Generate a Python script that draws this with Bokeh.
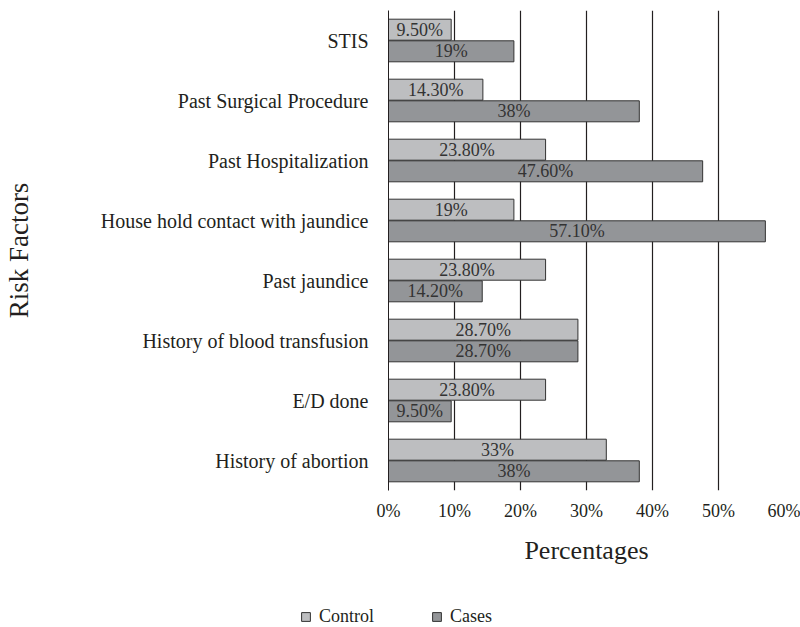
from bokeh.plotting import figure
from bokeh.layouts import column
from bokeh.models import ColumnDataSource, FactorRange, Range1d, FixedTicker, Legend, LegendItem
from bokeh.transform import dodge
from bokeh.core.properties import value
from bokeh.embed import file_html
from bokeh.resources import INLINE

categories = ["STIS", "Past Surgical Procedure", "Past Hospitalization",
              "House hold contact with jaundice", "Past jaundice",
              "History of blood transfusion", "E/D done", "History of abortion"]
control = [9.5, 14.3, 23.8, 19, 23.8, 28.7, 23.8, 33]
cases = [19, 38, 47.6, 57.1, 14.2, 28.7, 9.5, 38]
control_labels = ["9.50%", "14.30%", "23.80%", "19%", "23.80%", "28.70%", "23.80%", "33%"]
cases_labels = ["19%", "38%", "47.60%", "57.10%", "14.20%", "28.70%", "9.50%", "38%"]
x_ticks = [0, 10, 20, 30, 40, 50, 60]
x_tick_labels = ["0%", "10%", "20%", "30%", "40%", "50%", "60%"]
series_names = ["Control", "Cases"]

FONT = "Liberation Serif"
TXT = "#231f20"
C_CTRL = "#bdbec0"
C_CASE = "#939598"
C_EDGE = "#333333"

src = ColumnDataSource(dict(
    cat=categories,
    control=control, cases=cases,
    control_mid=[v / 2 for v in control],
    cases_mid=[v / 2 for v in cases],
    control_lab=control_labels, cases_lab=cases_labels,
))

p = figure(width=800, height=587, output_backend="svg", toolbar_location=None,
           y_range=FactorRange(factors=list(reversed(categories)), range_padding=0),
           x_range=Range1d(0, 60),
           min_border_left=387, min_border_right=16, min_border_top=10, min_border_bottom=97)
p.outline_line_color = None

p.hbar(y=dodge("cat", 0.18, range=p.y_range), left=0, right="control", height=0.35,
       source=src, fill_color=C_CTRL, line_color=C_EDGE, line_width=1)
p.hbar(y=dodge("cat", -0.18, range=p.y_range), left=0, right="cases", height=0.35,
       source=src, fill_color=C_CASE, line_color=C_EDGE, line_width=1)

p.text(x="control_mid", y=dodge("cat", 0.18, range=p.y_range), text="control_lab", source=src,
       text_align="center", text_baseline="middle", text_font=value(FONT),
       text_font_size="18px", text_color="#333333")
p.text(x="cases_mid", y=dodge("cat", -0.18, range=p.y_range), text="cases_lab", source=src,
       text_align="center", text_baseline="middle", text_font=value(FONT),
       text_font_size="18px", text_color="#333333")

p.ygrid.grid_line_color = None
p.xgrid.grid_line_color = "#231f20"
p.xgrid.grid_line_width = 1.2
p.xaxis.ticker = FixedTicker(ticks=x_ticks)
p.xaxis.major_label_overrides = {t: l for t, l in zip(x_ticks, x_tick_labels)}
p.xaxis.axis_line_color = None
p.xaxis.major_tick_line_color = None
p.xaxis.minor_tick_line_color = None
p.xaxis.major_label_text_font = FONT
p.xaxis.major_label_text_font_size = "18px"
p.xaxis.major_label_text_color = TXT
p.xaxis.major_label_standoff = 4
p.xaxis.axis_label = "Percentages"
p.xaxis.axis_label_text_font = FONT
p.xaxis.axis_label_text_font_size = "26px"
p.xaxis.axis_label_text_font_style = "normal"
p.xaxis.axis_label_text_color = TXT
p.xaxis.axis_label_standoff = 12

p.yaxis.axis_line_color = "#231f20"
p.yaxis.major_tick_line_color = None
p.yaxis.minor_tick_line_color = None
p.yaxis.major_label_text_font = FONT
p.yaxis.major_label_text_font_size = "20px"
p.yaxis.major_label_text_color = TXT
p.yaxis.major_label_standoff = 14
p.yaxis.axis_label = "Risk Factors"
p.yaxis.axis_label_text_font = FONT
p.yaxis.axis_label_text_font_size = "27px"
p.yaxis.axis_label_text_font_style = "normal"
p.yaxis.axis_label_text_color = TXT
p.yaxis.axis_label_standoff = 64

# legend strip: a full-width frame, not aligned with the main frame
lg = figure(width=800, height=40, output_backend="svg", toolbar_location=None,
            x_range=Range1d(0, 1), y_range=Range1d(0, 1),
            x_axis_location=None, y_axis_location=None,
            min_border_left=0, min_border_right=0,
            min_border_top=0, min_border_bottom=0)
if "frame_align" in lg.properties():
    lg.frame_align = False
    p.frame_align = False
lg.outline_line_color = None
lg.grid.visible = False
dummy = ColumnDataSource(dict(y=[5], right=[5]))
r1 = lg.hbar(y="y", right="right", left=5, height=0.5, source=dummy,
             fill_color=C_CTRL, line_color=C_EDGE)
r2 = lg.hbar(y="y", right="right", left=5, height=0.5, source=dummy,
             fill_color=C_CASE, line_color=C_EDGE)
legend = Legend(items=[LegendItem(label=series_names[0], renderers=[r1]),
                       LegendItem(label=series_names[1], renderers=[r2])],
                orientation="horizontal", location=(300, 0),
                glyph_width=11, glyph_height=11, spacing=57, padding=0, margin=0,
                label_text_font=FONT, label_text_font_size="18px", label_text_color=TXT,
                label_standoff=8, border_line_color=None, background_fill_alpha=0)
lg.add_layout(legend, "center")

layout = column(p, lg, spacing=0)
open("out.html", "w").write(file_html(layout, INLINE))
